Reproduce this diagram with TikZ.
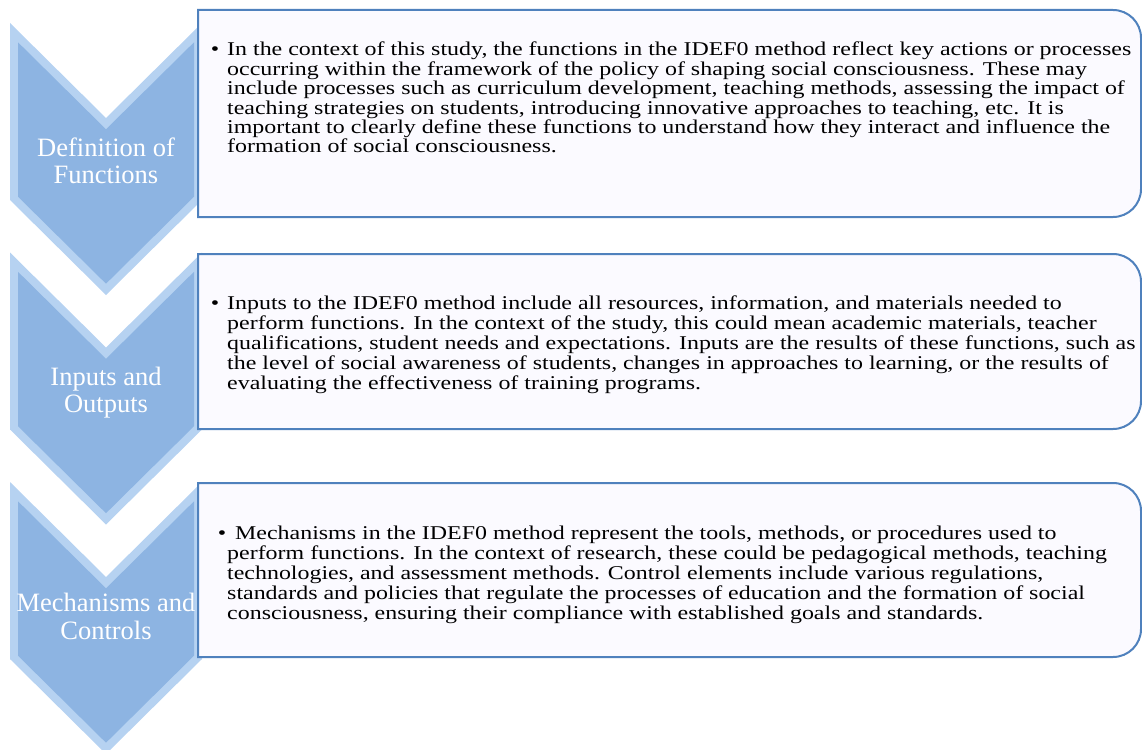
\documentclass[tikz,border=0pt]{standalone}
\usepackage{fontspec}
\setmainfont{Liberation Serif}
\newfontfamily\bodyfont[FakeStretch=1.227]{Liberation Serif}
\definecolor{chevblue}{RGB}{141,180,226}
\definecolor{chevedge}{RGB}{182,210,241}
\definecolor{boxline}{RGB}{79,129,189}
\definecolor{boxfill}{RGB}{251,250,255}

\begin{document}
\begin{tikzpicture}[x=1pt,y=-1pt,
    chevron/.style={fill=chevedge},
    chevface/.style={fill=chevblue},
    infobox/.style={draw=boxline,line width=2pt,fill=boxfill},
    steplabel/.style={text=white,font=\fontsize{26.5}{27.5}\selectfont,align=center,anchor=north,inner sep=0pt},
    bodytext/.style={font=\fontsize{19.5}{20}\bodyfont,align=left,anchor=north west,inner sep=0pt}]
        \useasboundingbox (0,0) rectangle (1142,749);
        \clip (0,0) rectangle (1142,749);

        % chevrons
        \fill [chevron] (10,23) -- (106,118) -- (202,23) -- (202,200) -- (106,295) -- (10,200) -- cycle;
        \fill [chevface] (18,42.3) -- (106,129.3) -- (194,42.3) -- (194,196.7) -- (106,283.7) -- (18,196.7) -- cycle;
        \fill [chevron] (10,252.5) -- (106,347.5) -- (202,252.5) -- (202,429.5) -- (106,524.5) -- (10,429.5) -- cycle;
        \fill [chevface] (18,271.8) -- (106,358.8) -- (194,271.8) -- (194,426.2) -- (106,513.2) -- (18,426.2) -- cycle;
        \fill [chevron] (10,482) -- (106,577) -- (202,482) -- (202,659) -- (106,754) -- (10,659) -- cycle;
        \fill [chevface] (18,501.3) -- (106,588.3) -- (194,501.3) -- (194,655.7) -- (106,742.7) -- (18,655.7) -- cycle;

        \node [steplabel] (lab1) at (106,137.5) {Definition of\\Functions};
        \node [steplabel] (lab2) at (106,366.5) {Inputs and\\Outputs};
        \node [steplabel] (lab3) at (106,593) {Mechanisms and\\Controls};

        % boxes
        \draw [infobox] (198,10) -- (1113,10) .. controls (1128.5,10) and (1141,22.5) .. (1141,38)
          -- (1141,189) .. controls (1141,204.5) and (1128.5,217) .. (1113,217) -- (198,217) -- cycle;
        \draw [infobox] (198,254) -- (1113,254) .. controls (1128.5,254) and (1141,266.5) .. (1141,282)
          -- (1141,401) .. controls (1141,416.5) and (1128.5,429) .. (1113,429) -- (198,429) -- cycle;
        \draw [infobox] (198,483) -- (1113,483) .. controls (1128.5,483) and (1141,495.5) .. (1141,511)
          -- (1141,629) .. controls (1141,644.5) and (1128.5,657) .. (1113,657) -- (198,657) -- cycle;

        \node [bodytext,font=\fontsize{19.5}{19.4}\bodyfont] (txt1) at (227,42) {\llap{\textbullet\hspace{8pt}}In the context of this study, the functions in the IDEF0 method reflect key actions or processes\\
          occurring within the framework of the policy of shaping social consciousness. These may\\
          include processes such as curriculum development, teaching methods, assessing the impact of\\
          teaching strategies on students, introducing innovative approaches to teaching, etc. It is\\
          important to clearly define these functions to understand how they interact and influence the\\
          formation of social consciousness.};
        \node [bodytext] (txt2) at (227,296) {\llap{\textbullet\hspace{8pt}}Inputs to the IDEF0 method include all resources, information, and materials needed to\\
          perform functions. In the context of the study, this could mean academic materials, teacher\\
          qualifications, student needs and expectations. Inputs are the results of these functions, such as\\
          the level of social awareness of students, changes in approaches to learning, or the results of\\
          evaluating the effectiveness of training programs.};
        \node [bodytext] (txt3) at (227,526) {\hspace{8pt}\llap{\textbullet\hspace{9pt}}Mechanisms in the IDEF0 method represent the tools, methods, or procedures used to\\
          perform functions. In the context of research, these could be pedagogical methods, teaching\\
          technologies, and assessment methods. Control elements include various regulations,\\
          standards and policies that regulate the processes of education and the formation of social\\
          consciousness, ensuring their compliance with established goals and standards.};
      \end{tikzpicture}
\end{document}
